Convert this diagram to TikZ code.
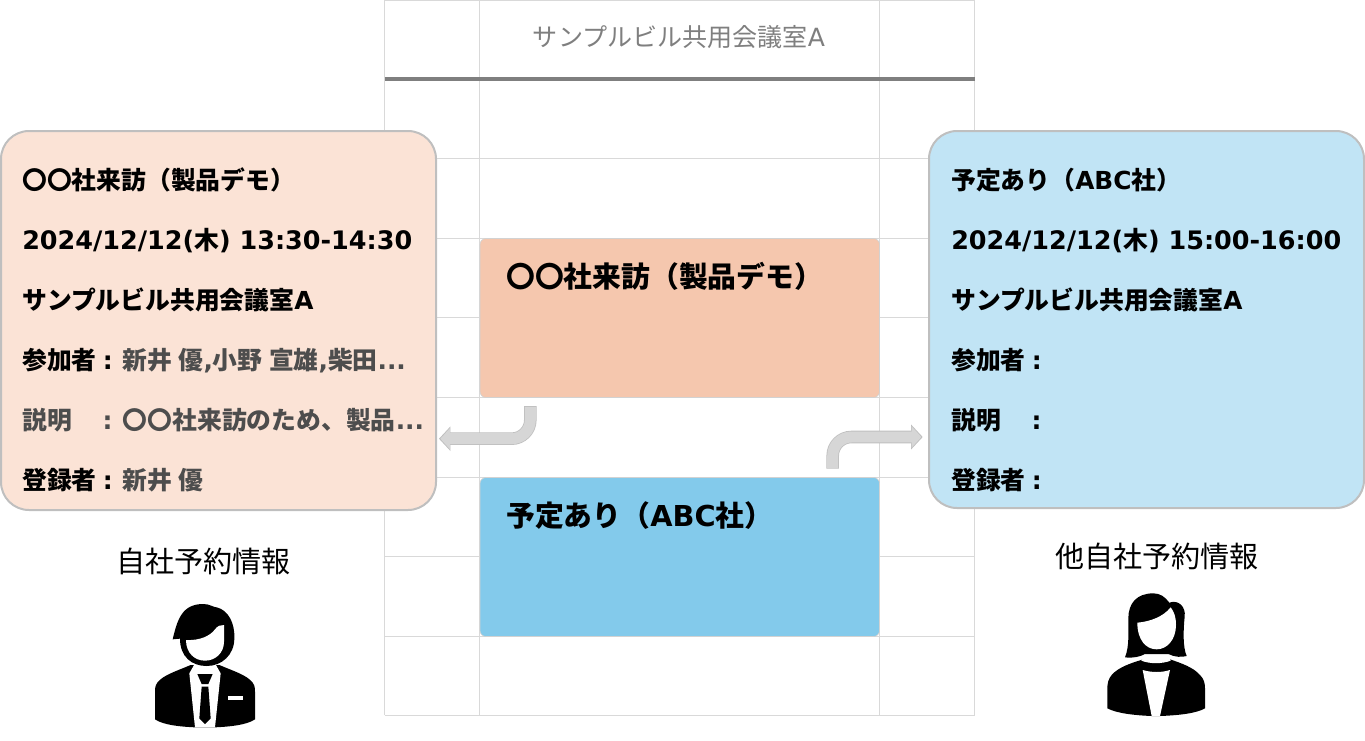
\documentclass[tikz,border=0pt]{standalone}
\usepackage{fontspec}
\usetikzlibrary{arrows.meta,calc}
\setmainfont{Noto Sans CJK JP}
\newfontfamily\lat{DejaVu Sans}
\newcommand{\la}[1]{{\lat #1}}
\newcommand{\lad}[1]{{\fontsize{19.1pt}{20pt}\selectfont\lat #1}}
\newcommand{\wsp}{\hspace{0.26em}}
\newcommand{\colA}{\hspace{0.25em}\la{:}\hspace{0.4em}}
\definecolor{gridc}{HTML}{D9D9D9}
\definecolor{ruleg}{HTML}{7F7F7F}
\definecolor{peach}{HTML}{FBE3D6}
\definecolor{peachd}{HTML}{F5C7AE}
\definecolor{sky}{HTML}{C1E4F5}
\definecolor{skyd}{HTML}{83CAEB}
\definecolor{cardb}{HTML}{BFBFBF}
\definecolor{soft}{HTML}{4D4D4D}
\definecolor{arrf}{HTML}{D6D6D6}
\tikzset{
  x=0.75pt,y=-0.75pt,
  gridline/.style={draw=gridc,line width=0.75pt},
  card/.style={line width=1.5pt,draw=cardb,rounded corners=21pt},
  evbox/.style={draw=cardb!70,line width=0.5pt,rounded corners=4.5pt},
  cardtext/.style={anchor=base west,inner sep=0pt,font=\fontsize{18.6pt}{20pt}\selectfont\bfseries},
  evtext/.style={anchor=base west,inner sep=0pt,font=\fontsize{21.6pt}{24pt}\selectfont\bfseries},
  caption/.style={anchor=center,inner sep=0pt,font=\fontsize{21.8pt}{24pt}\selectfont},
  fatunder/.style={draw=cardb,line width=9.4pt,rounded corners=14pt,-{Triangle[length=8.6pt,width=18pt]}},
  fatover/.style={draw=arrf,line width=8.2pt,rounded corners=14pt,shorten >=1pt,-{Triangle[length=7.4pt,width=15.8pt]}},
  icon/.style={x=0.25pt,y=-0.25pt},
}
\begin{document}
\begin{tikzpicture}
\useasboundingbox (0,0) rectangle (1365,740);
% grid
\foreach \gx in {384.5,479.5,879.5,974.5} \draw[gridline] (\gx,0) -- (\gx,715);
\foreach \gy in {0.5,158,238,317,397,477,556,636,715} \draw[gridline] (384.5,\gy) -- (974.5,\gy);
\draw[draw=ruleg,line width=2.6pt] (384.5,79) -- (974.5,79);
\node[anchor=base,inner sep=0pt,text=ruleg,font=\fontsize{18.8pt}{20pt}\selectfont] (title) at (679,46) {サンプルビル共用会議室\la{A}};
% event boxes
\path[evbox,fill=peachd] (480,238.5) rectangle (879.5,397.5);
\node[evtext] (ev1) at (506,287) {〇〇社来訪（製品デモ）};
\path[evbox,fill=skyd] (480,477.5) rectangle (879.5,636.5);
\node[evtext] (ev2) at (506,526) {予定あり（\la{ABC}社）};
% cards
\path[card,fill=peach] (1,131) rectangle (436,510);
\node[cardtext] (l1) at (22,189) {〇〇社来訪（製品デモ）};
\node[cardtext] (l2) at (22,249) {\lad{2024/12/12(}木\lad{) 13:30-14:30}};
\node[cardtext] (l3) at (22,309) {サンプルビル共用会議室\la{A}};
\node[cardtext] (l4) at (22,369) {参加者\colA\textcolor{soft}{新井\wsp 優\la{,}小野\wsp 宣雄\la{,}柴田\la{...}}};
\node[cardtext,text=soft] (l5) at (22,429) {説明\hspace{1.24em}\la{:}\hspace{0.42em}〇〇社来訪のため、製品\la{...}};
\node[cardtext] (l6) at (22,489) {登録者\colA\textcolor{soft}{新井\wsp 優}};
\path[card,fill=sky] (929,131) rectangle (1364,508);
\node[cardtext] (r1) at (951,189) {予定あり（\la{ABC}社）};
\node[cardtext] (r2) at (951,249) {\lad{2024/12/12(}木\lad{) 15:00-16:00}};
\node[cardtext] (r3) at (951,309) {サンプルビル共用会議室\la{A}};
\node[cardtext] (r4) at (951,369) {参加者\colA};
\node[cardtext] (r5) at (951,429) {説明\hspace{1.24em}\la{:}};
\node[cardtext] (r6) at (951,489) {登録者\colA};
% arrows
\coordinate (a1s) at (530.3,406);
\coordinate (a1e) at (439,438.7);
\coordinate (a2s) at (832.7,468.7);
\coordinate (a2e) at (922.7,437);
\draw[fatunder] (a1s) |- (a1e);
\draw[fatover] ($(a1s)+(0,0.8)$) |- (a1e);
\draw[fatunder] (a2s) |- (a2e);
\draw[fatover] ($(a2s)+(0,-0.8)$) |- (a2e);
% captions
\node[caption] (c1) at (203.5,561) {自社予約情報};
\node[caption] (c2) at (1157,556) {他自社予約情報};
% man
\begin{scope}[shift={(100,530)},icon]
  \fill (272,405) .. controls (225,425) and (190,435) .. (172,458) .. controls (165,468) and (165,475) .. (165,485) -- (165,568) .. controls (190,585) and (240,590) .. (285,592) -- (345,592) .. controls (390,590) and (440,585) .. (465,568) -- (465,485) .. controls (465,475) and (465,468) .. (458,458) .. controls (440,435) and (405,425) .. (358,405) -- cycle;
  \fill[white] (285,400) -- (268,430) -- (285,592) -- (345,592) -- (362,430) -- (345,400) -- cycle;
  \fill (292,432) -- (338,432) -- (325,462) -- (305,462) -- cycle;
  \fill (305,470) -- (325,470) -- (332,565) -- (315,582) -- (298,565) -- cycle;
  \fill[white] (385,497) rectangle (428,510);
  \fill (218,328) .. controls (232,270) and (245,222) .. (310,222) .. controls (330,222) and (340,232) .. (350,232) .. controls (385,240) and (405,280) .. (403,325) .. controls (403,375) and (365,408) .. (320,408) .. controls (275,408) and (240,380) .. (240,326) -- cycle;
  \fill[white] (258,330) .. controls (300,332) and (330,318) .. (345,298) .. controls (352,288) and (362,284) .. (372,285) -- (372,335) .. controls (372,370) and (345,392) .. (315,392) .. controls (285,392) and (258,370) .. (258,330) -- cycle;
\end{scope}
% woman
\begin{scope}[shift={(1050,530)},icon]
  \fill (280,388) .. controls (240,400) and (205,412) .. (185,435) .. controls (175,447) and (172,460) .. (172,475) -- (172,535) .. controls (200,550) and (255,556) .. (305,558) -- (330,558) .. controls (385,556) and (440,550) .. (465,535) -- (465,475) .. controls (465,460) and (462,447) .. (450,435) .. controls (430,412) and (395,400) .. (360,388) -- cycle;
  \fill[white] (278,420) .. controls (305,428) and (335,428) .. (360,420) -- (330,558) -- (305,558) -- cycle;
  \fill (310,190) .. controls (260,190) and (235,220) .. (235,265) .. controls (235,310) and (238,350) .. (225,382) .. controls (250,385) and (270,380) .. (285,372) -- (355,372) .. controls (375,382) and (395,382) .. (410,378) .. controls (398,350) and (400,300) .. (404,260) .. controls (408,230) and (385,208) .. (358,218) .. controls (345,200) and (330,190) .. (310,190) -- cycle;
  \fill[white] (285,375) -- (355,375) -- (362,392) .. controls (335,402) and (300,402) .. (274,392) -- cycle;
  \fill[white] (262,278) .. controls (300,275) and (340,260) .. (362,232) .. controls (372,245) and (378,260) .. (378,285) .. controls (378,330) and (350,358) .. (320,358) .. controls (288,358) and (262,330) .. (262,278) -- cycle;
\end{scope}
\end{tikzpicture}
\end{document}
